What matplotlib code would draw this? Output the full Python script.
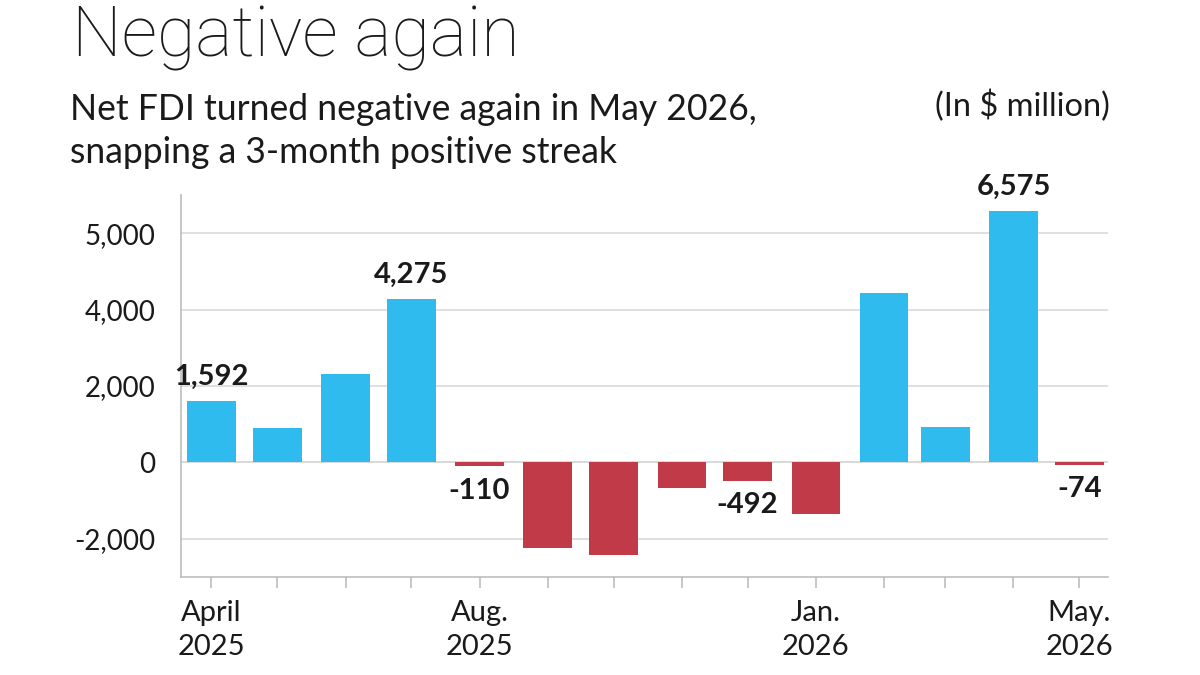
import matplotlib.pyplot as plt
import matplotlib.dates as mdates
import pandas as pd

# Net FDI by month (in $ million)
months = pd.date_range('2025-04-01', '2026-05-01', freq='MS')
net_fdi = [1592, 890, 2300, 4275, -110, -2245, -2430, -680, -492, -1358, 4435, 920, 6575, -74]

# bars that carry a value label
labelled = {0: '1,592', 3: '4,275', 4: '-110', 8: '-492', 12: '6,575', 13: '-74'}

# y ticks as printed on the original (top label reads 5,000)
ytick_pos = [-2000, 0, 2000, 4000, 6000]
ytick_labels = ['-2,000', '0', '2,000', '4,000', '5,000']

xtick_dates = ['2025-04-01', '2025-08-01', '2026-01-01', '2026-05-01']
xtick_labels = ['April\n2025', 'Aug.\n2025', 'Jan.\n2026', 'May.\n2026']

BLUE = '#30bbef'
RED = '#c13a48'
GRID = '#d9d9d9'
TEXT = '#1a1a1a'

plt.rcParams['font.family'] = ['Lato', 'DejaVu Sans']

fig = plt.figure(figsize=(12, 6.75), dpi=100)
ax = fig.add_axes([0.1506, 0.1456, 0.7727, 0.5655])

colors = [BLUE if v >= 0 else RED for v in net_fdi]
ax.bar(months, net_fdi, width=22, color=colors, zorder=3)

for i, txt in labelled.items():
    v = net_fdi[i]
    if v >= 0:
        ax.annotate(txt, (mdates.date2num(months[i]), v), xytext=(0, 8),
                    textcoords='offset points', ha='center', va='bottom',
                    fontsize=21, fontweight='bold', color=TEXT)
    else:
        ax.annotate(txt, (mdates.date2num(months[i]), v), xytext=(0, -8),
                    textcoords='offset points', ha='center', va='top',
                    fontsize=21, fontweight='bold', color=TEXT)

ax.set_xlim(pd.Timestamp('2025-03-18'), pd.Timestamp('2026-05-14'))
ax.set_ylim(-3000, 7000)

ax.set_yticks(ytick_pos)
ax.set_yticklabels(ytick_labels)
ax.set_xticks(months, minor=True)
ax.set_xticks(pd.to_datetime(xtick_dates))
ax.set_xticklabels(xtick_labels, linespacing=1.35)

ax.grid(axis='y', color=GRID, linewidth=1.2, zorder=0)
ax.axhline(0, color=GRID, linewidth=1.2, zorder=1)

for side in ['top', 'right']:
    ax.spines[side].set_visible(False)
for side in ['left', 'bottom']:
    ax.spines[side].set_color('#bdbdbd')
    ax.spines[side].set_linewidth(1.2)

ax.tick_params(axis='y', length=0, pad=18, labelsize=20, labelcolor=TEXT)
ax.tick_params(axis='x', which='both', length=8, color='#bdbdbd', width=1.2,
               labelsize=21, labelcolor=TEXT, pad=9)

fig.text(0.06, 0.9156, 'Negative again', fontsize=50.5, fontweight='light',
         family=['Roboto', 'DejaVu Sans'], color=TEXT, va='baseline', ha='left')
fig.text(0.058, 0.8222, 'Net FDI turned negative again in May 2026,',
         fontsize=25.6, color=TEXT, va='baseline', ha='left')
fig.text(0.058, 0.7585, 'snapping a 3-month positive streak',
         fontsize=25.6, color=TEXT, va='baseline', ha='left')
fig.text(0.925, 0.828, '(In $ million)', fontsize=23.5, color=TEXT,
         va='baseline', ha='right')

fig.savefig('out.png', dpi=100, facecolor='white')
